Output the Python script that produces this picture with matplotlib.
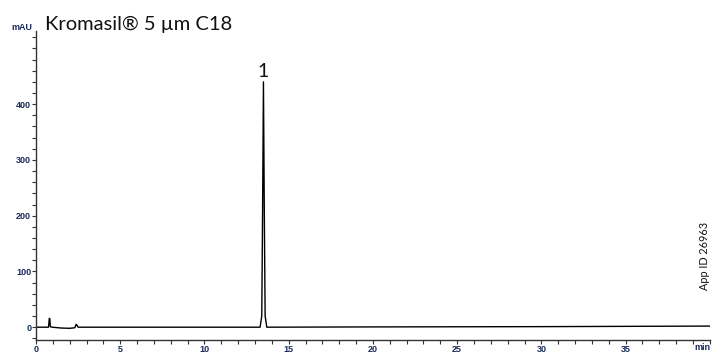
import matplotlib
matplotlib.use('Agg')
import matplotlib.pyplot as plt
from matplotlib.ticker import MultipleLocator

# chromatogram trace (min, mAU)
time_min = [0.0, 0.74, 0.79, 0.82, 0.85, 0.95, 1.5, 2.0, 2.3, 2.38, 2.42, 2.5,
            8.0, 13.3, 13.4, 13.45, 13.5, 13.55, 13.6, 13.7, 20.0, 30.0, 40.0]
signal_mau = [0.0, 0.0, 16.0, 15.0, 1.0, 0.0, -1.5, -2.0, -1.0, 5.0, 4.0, 0.0,
              0.0, 0.0, 20.0, 210.0, 440.0, 210.0, 20.0, 0.0, 0.5, 1.0, 2.0]

x_ticks = [0, 5, 10, 15, 20, 25, 30, 35, 40]
x_tick_labels = ['0', '5', '10', '15', '20', '25', '30', '35', '']
y_ticks = [0, 100, 200, 300, 400]

peak_label = '1'
peak_time = 13.5
peak_height = 440

title = 'Kromasil\u00ae 5 \u00b5m C18'
app_id = 'App ID 26963'

fig = plt.figure(figsize=(7.12, 3.54), dpi=100)
ax = fig.add_axes([0.0506, 0.0395, 0.9464, 0.8725])

ax.plot(time_min, signal_mau, color='black', lw=1.0)

ax.set_xlim(0, 40)
ax.set_ylim(-23, 531)

for s in ['top', 'right']:
    ax.spines[s].set_visible(False)
for s in ['left', 'bottom']:
    ax.spines[s].set_color('#333333')
    ax.spines[s].set_linewidth(1.0)

tick_col = '#1a2a5a'
ax.set_xticks(x_ticks)
ax.set_xticklabels(x_tick_labels)
ax.set_yticks(y_ticks)
ax.xaxis.set_minor_locator(MultipleLocator(1))
ax.yaxis.set_minor_locator(MultipleLocator(20))
ax.tick_params(axis='both', which='both', direction='out', length=3, width=0.8,
               color='#333333', labelsize=6.5, labelcolor=tick_col, pad=0.5)
for lab in ax.get_xticklabels() + ax.get_yticklabels():
    lab.set_fontweight('bold')
    lab.set_family('Liberation Sans')

fig.text(22 / 712, 1 - 28 / 354, 'mAU', fontsize=6.5, fontweight='bold',
         color=tick_col, ha='center', va='center', family='Liberation Sans')
fig.text(710 / 712, 1 - 348 / 354, 'min', fontsize=6.5, fontweight='bold',
         color=tick_col, ha='right', va='center', family='Liberation Sans')

fig.text(45 / 712, 1 - 24 / 354, title, fontsize=14.5, family='Lato',
         ha='left', va='center', color='#111111')

ax.annotate(peak_label, (peak_time, peak_height), xytext=(0, 1),
            textcoords='offset points', ha='center', va='bottom',
            fontsize=14, family='Lato', color='#111111')

fig.text(704 / 712, 1 - 256 / 354, app_id, rotation=90, fontsize=7.8,
         family='Lato', ha='center', va='center', color='#111111')

fig.savefig('out.png', dpi=100)
